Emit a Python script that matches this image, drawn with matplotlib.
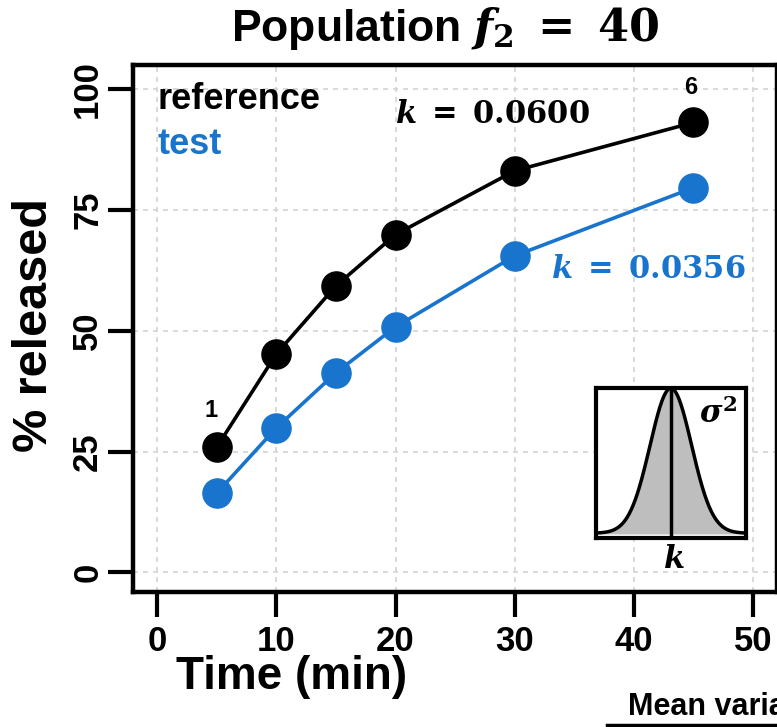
import numpy as np
import matplotlib
matplotlib.use("Agg")
import matplotlib.pyplot as plt
from matplotlib.lines import Line2D

plt.rcParams['font.family'] = 'Liberation Sans'
plt.rcParams['font.weight'] = 'bold'
plt.rcParams['mathtext.fontset'] = 'custom'
plt.rcParams['mathtext.rm'] = 'DejaVu Serif:bold'
plt.rcParams['mathtext.it'] = 'DejaVu Serif:italic:bold'
plt.rcParams['mathtext.bf'] = 'DejaVu Serif:bold'

# dissolution profiles
time_min = [5, 10, 15, 20, 30, 45]
reference = [25.9, 45.2, 59.3, 69.9, 83.1, 93.1]
test = [16.4, 29.9, 41.3, 50.8, 65.5, 79.6]
k_reference = 0.0600
k_test = 0.0356

x_ticks = [0, 10, 20, 30, 40, 50]
y_ticks = [0, 25, 50, 75, 100]

blue = '#1874CD'

fig = plt.figure(figsize=(7.77, 7.27), dpi=100)
ax = fig.add_axes([0.1716, 0.1861, 0.8282, 0.7245])

ax.grid(True, color='#D3D3D3', linestyle=(0, (3, 3)), linewidth=1.2)
ax.set_axisbelow(True)

ax.plot(time_min, reference, color='black', lw=2.6, marker='o', ms=21,
        mfc='black', mec='black', zorder=3)
ax.plot(time_min, test, color=blue, lw=2.6, marker='o', ms=21,
        mfc=blue, mec=blue, zorder=3)

ax.set_xlim(-2, 52)
ax.set_ylim(-4, 105)
ax.set_xticks(x_ticks)
ax.set_yticks(y_ticks)
for s in ax.spines.values():
    s.set_linewidth(3.2)
ax.tick_params(axis='both', length=18, width=3, direction='out', labelsize=25)
ax.tick_params(axis='x', pad=6)
ax.tick_params(axis='y', pad=3)
for lab in ax.get_yticklabels():
    lab.set_rotation(90)
    lab.set_va('center')

# point numbers
ax.text(4.5, 33.6, '1', fontsize=17, ha='center', va='center')
ax.text(44.8, 100.3, '6', fontsize=17, ha='center', va='center')

# legend as coloured text
ax.text(0.0, 97.8, 'reference', fontsize=26, color='black', ha='left', va='center')
ax.text(0.0, 88.5, 'test', fontsize=26, color=blue, ha='left', va='center')

# rate constants
ax.text(28.1, 94.7, r'$k\;=\;%.4f$' % k_reference, fontsize=22,
        color='black', ha='center', va='center')
ax.text(41.2, 62.6, r'$k\;=\;%.4f$' % k_test, fontsize=22,
        color=blue, ha='center', va='center')

fig.text(292 / 777, 1 - 677 / 727, 'Time (min)', fontsize=33, ha='center', va='center')
fig.text(35 / 777, 1 - 325 / 727, '% released', fontsize=35, ha='center', va='center',
         rotation=90)
fig.text(445 / 777, 1 - 29 / 727, r'Population $f_2\;=\;40$', fontsize=32,
         ha='center', va='center')

# inset: distribution of k
ins = fig.add_axes([596 / 777, 1 - 538.3 / 727, 149.7 / 777, 150 / 727])
g = np.linspace(-3.6, 3.6, 300)
dens = np.exp(-0.5 * g ** 2)
ins.fill_between(g, 0, dens, color='#BEBEBE')
ins.plot(g, dens, color='black', lw=2.5)
ins.axvline(0, color='black', lw=2.5)
ins.set_xlim(-3.6, 3.6)
ins.set_ylim(-0.035, 1.0)
ins.set_xticks([])
ins.set_yticks([])
for s in ins.spines.values():
    s.set_linewidth(3)
fig.text(718 / 777, 1 - 414 / 727, r'$\sigma^2$', fontsize=22, ha='center', va='center')
fig.text(674 / 777, 1 - 560 / 727, r'$k$', fontsize=22, ha='center', va='center')

# neighbouring panel caption
fig.text(628 / 777, 1 - 715 / 727, 'Mean variance', fontsize=22, ha='left',
         va='baseline')
fig.add_artist(Line2D([607 / 777, 1.0], [1 - 725 / 727] * 2, color='black', lw=2.5))

fig.savefig('out.png', dpi=100)
